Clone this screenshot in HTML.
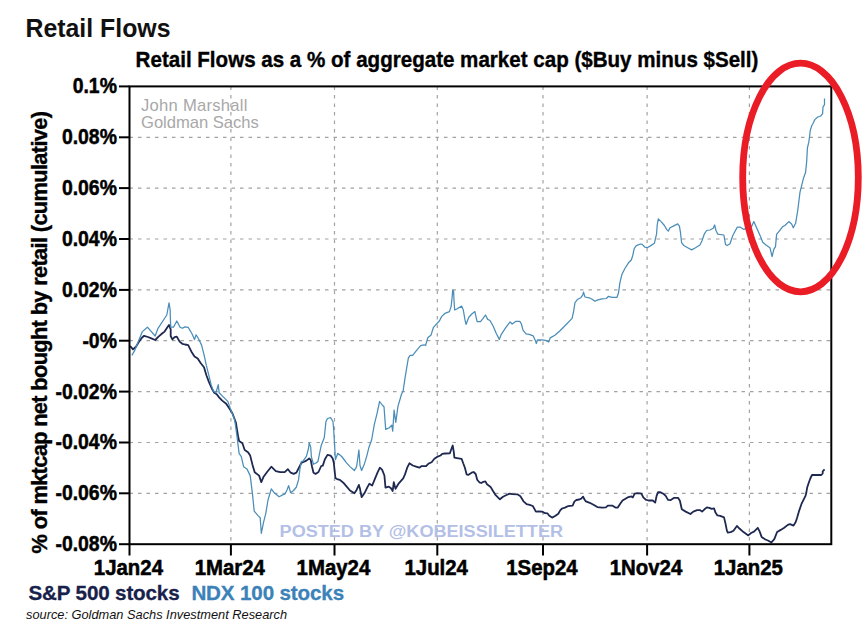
<!DOCTYPE html><html><head><meta charset="utf-8"><style>html,body{margin:0;padding:0;background:#fff;overflow:hidden}svg{display:block}</style></head><body>
<svg width="862" height="631" viewBox="0 0 862 631">
<rect width="862" height="631" fill="#fff"/>
<text x="25.5" y="37" font-family="Liberation Sans" font-weight="bold" font-size="25" fill="#111" textLength="145" lengthAdjust="spacingAndGlyphs">Retail Flows</text>
<text transform="translate(135.6,67.4) scale(1,1.05)" font-family="Liberation Sans" font-weight="bold" font-size="20.5" fill="#000" stroke="#000" stroke-width="0.35" textLength="622.8" lengthAdjust="spacingAndGlyphs">Retail Flows as a % of aggregate market cap ($Buy minus $Sell)</text>
<g stroke="#a2a2a2" stroke-width="1.2" stroke-dasharray="3.5 5"><line x1="129.5" y1="137.3" x2="831.3" y2="137.3"/><line x1="129.5" y1="188.1" x2="831.3" y2="188.1"/><line x1="129.5" y1="239.0" x2="831.3" y2="239.0"/><line x1="129.5" y1="289.9" x2="831.3" y2="289.9"/><line x1="129.5" y1="340.7" x2="831.3" y2="340.7"/><line x1="129.5" y1="391.6" x2="831.3" y2="391.6"/><line x1="129.5" y1="442.5" x2="831.3" y2="442.5"/><line x1="129.5" y1="493.3" x2="831.3" y2="493.3"/><line x1="230.9" y1="86.4" x2="230.9" y2="544.2"/><line x1="334.5" y1="86.4" x2="334.5" y2="544.2"/><line x1="437.3" y1="86.4" x2="437.3" y2="544.2"/><line x1="543.0" y1="86.4" x2="543.0" y2="544.2"/><line x1="647.1" y1="86.4" x2="647.1" y2="544.2"/><line x1="749.4" y1="86.4" x2="749.4" y2="544.2"/></g>
<text x="141" y="110.9" font-family="Liberation Sans" font-size="16.6" fill="#a8a8a8" textLength="106.4" lengthAdjust="spacing">John Marshall</text>
<text x="141" y="128.2" font-family="Liberation Sans" font-size="16.6" fill="#a8a8a8" textLength="117.7" lengthAdjust="spacing">Goldman Sachs</text>
<text x="279.6" y="536.7" font-family="Liberation Sans" font-weight="bold" font-size="17.2" fill="#b3bfe6" textLength="283.4" lengthAdjust="spacingAndGlyphs">POSTED BY @KOBEISSILETTER</text>
<path d="M130.2,346.0 L133.0,349.3 L135.8,347.0 L139.1,341.6 L141.9,337.7 L144.1,335.8 L148.0,337.0 L151.3,338.3 L155.2,340.0 L158.5,336.6 L162.4,333.3 L164.6,331.6 L167.4,327.2 L169.0,325.0 L170.7,329.4 L170.7,336.0 L172.4,339.4 L174.6,337.2 L176.8,336.6 L179.6,341.6 L182.3,343.8 L185.0,344.5 L188.2,345.1 L191.3,351.4 L194.5,356.5 L197.7,358.6 L200.8,363.3 L204.0,367.3 L206.4,375.2 L208.8,381.6 L211.9,388.7 L214.3,392.7 L216.7,394.2 L219.1,397.4 L222.2,400.6 L226.2,403.7 L229.4,408.5 L232.4,413.3 L235.8,422.2 L238.0,435.6 L239.1,441.1 L242.4,443.3 L244.7,450.0 L248.0,452.2 L250.2,455.6 L252.4,464.4 L254.7,472.2 L259.1,475.6 L261.3,482.2 L263.6,476.7 L266.9,472.2 L271.3,466.7 L275.8,471.1 L280.2,472.2 L284.7,472.2 L287.9,469.2 L290.7,472.7 L293.6,473.9 L296.4,472.7 L299.3,467.0 L301.4,462.8 L303.5,462.0 L306.4,460.6 L309.2,458.5 L310.7,459.9 L312.1,467.0 L313.5,472.7 L315.6,473.9 L318.5,472.0 L321.2,466.0 L322.8,465.6 L324.9,459.2 L327.5,454.9 L330.6,455.6 L332.7,458.5 L333.8,462.8 L335.4,478.0 L337.0,479.1 L339.9,479.9 L343.3,482.7 L346.7,486.6 L350.0,490.5 L354.4,493.3 L356.6,489.9 L358.9,484.9 L360.0,488.8 L361.6,497.1 L364.4,493.3 L367.7,486.6 L369.4,483.8 L372.2,485.5 L374.9,478.8 L377.7,472.2 L379.9,467.7 L382.2,469.9 L384.4,475.5 L385.5,487.7 L388.8,486.6 L391.0,488.3 L392.7,491.0 L393.8,482.2 L395.5,488.8 L398.8,483.3 L403.2,478.3 L405.0,474.4 L407.2,467.7 L409.4,463.3 L412.8,465.5 L416.1,466.6 L419.4,467.7 L421.6,466.1 L426.1,466.1 L428.3,463.8 L431.6,462.2 L434.4,458.8 L437.7,456.6 L440.5,455.5 L442.2,453.9 L444.9,453.5 L449.9,453.3 L451.0,450.0 L452.7,445.5 L453.8,452.2 L454.4,457.7 L458.3,458.3 L461.6,458.8 L463.2,463.3 L464.9,467.7 L466.6,474.4 L468.2,474.9 L471.6,472.7 L473.6,472.0 L475.7,474.0 L477.2,479.7 L479.3,482.3 L481.3,483.0 L483.4,481.8 L485.4,481.3 L487.0,484.3 L490.6,486.9 L492.7,490.5 L495.7,495.2 L499.9,499.3 L503.0,496.7 L506.0,495.2 L509.6,493.6 L512.2,494.1 L517.4,494.3 L520.4,496.2 L523.5,501.3 L526.6,504.2 L529.7,504.9 L532.8,506.0 L535.9,511.6 L539.0,511.4 L542.1,511.6 L545.2,513.2 L547.4,513.3 L549.3,515.7 L552.1,517.6 L555.5,515.7 L558.3,513.8 L560.2,510.4 L562.1,508.5 L565.0,507.6 L567.8,506.2 L572.6,505.7 L574.5,501.4 L576.4,500.0 L579.3,499.5 L581.2,498.6 L583.1,496.7 L584.5,499.5 L585.9,501.4 L589.7,502.8 L593.5,504.7 L597.3,507.1 L602.1,507.6 L605.9,507.4 L607.8,505.7 L612.6,505.7 L615.4,507.6 L617.8,507.6 L620.2,503.8 L622.5,500.5 L623.8,499.7 L627.6,497.4 L631.4,496.4 L632.8,497.4 L634.7,493.6 L637.6,493.1 L641.4,493.6 L643.3,497.4 L645.7,499.7 L648.5,500.5 L652.8,500.5 L655.2,502.6 L656.6,495.9 L658.1,492.1 L660.0,492.1 L663.8,494.0 L665.7,495.9 L668.0,499.9 L670.4,500.2 L674.2,497.8 L678.0,497.8 L679.9,500.7 L681.8,509.3 L685.7,511.6 L690.4,514.0 L693.3,511.6 L697.1,510.2 L700.2,510.2 L702.1,511.6 L704.5,509.3 L706.9,507.4 L709.3,507.8 L711.7,508.8 L714.0,508.3 L715.5,512.6 L717.4,515.4 L720.2,515.9 L724.0,517.4 L725.4,523.1 L726.9,530.7 L727.8,532.6 L730.7,532.1 L733.5,530.7 L736.9,525.9 L739.7,528.8 L743.5,532.1 L748.3,535.4 L751.1,533.0 L754.0,531.6 L757.8,527.8 L759.7,531.6 L761.6,536.9 L765.4,539.5 L767.9,540.5 L771.4,542.5 L774.3,539.1 L777.1,532.0 L780.7,529.9 L784.2,527.7 L787.8,524.9 L790.0,524.1 L793.5,525.6 L795.7,522.0 L797.1,517.7 L799.2,510.6 L801.4,504.2 L803.5,499.9 L805.6,495.6 L806.3,492.8 L807.1,487.8 L808.5,483.5 L810.3,478.5 L812.0,475.0 L815.6,475.0 L821.3,475.0 L822.7,473.5 L822.7,471.4 L824.6,469.3" fill="none" stroke="#1e2850" stroke-width="1.8" stroke-linejoin="round"/>
<path d="M131.9,355.4 L134.7,350.4 L139.1,339.4 L142.4,331.6 L147.4,327.2 L155.2,336.0 L158.0,328.3 L166.8,315.0 L169.0,302.8 L170.1,309.4 L170.7,327.2 L173.5,327.2 L176.8,321.0 L180.1,327.2 L182.3,328.3 L185.0,326.9 L188.2,327.4 L192.1,334.0 L194.5,339.6 L196.1,334.8 L198.5,338.8 L201.6,345.1 L204.0,354.6 L206.4,365.7 L208.8,375.2 L211.1,384.7 L213.5,391.1 L215.9,392.7 L218.3,384.7 L219.1,392.7 L223.0,396.6 L227.8,401.4 L231.3,411.1 L234.7,420.0 L236.9,435.6 L239.1,453.3 L241.3,456.7 L243.6,466.7 L246.9,468.9 L250.2,475.6 L252.4,493.3 L254.2,511.1 L258.0,515.6 L260.2,517.8 L261.3,533.3 L263.6,522.2 L265.8,513.3 L268.0,500.0 L271.3,488.9 L274.7,493.3 L279.1,496.7 L283.6,494.4 L285.0,494.1 L287.1,489.8 L288.6,485.6 L290.7,492.7 L293.6,490.5 L296.4,487.0 L298.5,479.9 L300.0,468.5 L301.4,461.3 L302.8,461.3 L306.4,456.3 L308.5,448.5 L309.2,442.8 L310.7,447.1 L311.4,457.0 L313.5,464.2 L316.4,462.8 L318.0,461.2 L321.2,445.4 L324.3,437.5 L325.9,421.7 L327.5,418.5 L330.7,417.7 L333.0,421.7 L333.8,431.2 L334.6,445.4 L335.4,459.7 L337.8,453.3 L341.7,456.5 L344.4,460.0 L346.5,462.8 L350.0,466.6 L354.4,470.5 L356.6,466.6 L358.9,450.0 L360.0,465.5 L361.6,470.5 L364.4,463.9 L366.6,456.6 L368.8,447.8 L371.6,440.0 L374.4,424.2 L377.0,413.7 L379.6,401.5 L382.2,405.0 L384.0,406.7 L385.7,429.4 L389.2,427.7 L391.8,425.1 L392.7,431.2 L394.1,410.2 L395.8,422.4 L397.9,406.7 L401.4,394.5 L403.1,391.0 L404.9,378.8 L406.6,368.4 L408.4,357.9 L410.1,355.3 L412.7,355.3 L416.2,350.9 L420.6,345.7 L424.1,344.8 L425.6,345.5 L427.8,337.7 L431.1,334.9 L433.3,327.7 L436.1,324.4 L439.4,321.0 L441.6,316.6 L445.0,313.3 L449.4,311.6 L451.1,306.6 L452.2,296.6 L452.7,290.0 L453.6,291.1 L454.1,302.2 L454.7,310.0 L457.2,308.8 L461.6,306.1 L463.3,310.0 L465.0,319.9 L466.0,324.4 L468.8,317.2 L472.1,313.8 L474.9,311.6 L477.1,321.6 L480.5,321.6 L482.7,318.8 L485.5,315.0 L487.7,319.4 L490.0,320.5 L493.1,326.0 L496.2,333.2 L499.3,339.4 L501.3,334.3 L505.4,328.1 L510.1,321.9 L512.1,324.0 L515.7,321.4 L519.9,321.4 L521.4,324.0 L523.0,330.2 L526.0,333.8 L529.1,334.3 L533.2,335.8 L535.3,340.4 L536.3,343.5 L537.4,339.9 L541.5,339.9 L545.6,340.4 L548.7,342.0 L550.2,337.9 L554.9,335.3 L560.0,330.7 L565.2,325.5 L572.1,318.4 L573.6,311.3 L575.0,302.7 L577.8,299.2 L580.7,297.8 L582.8,294.9 L583.5,292.1 L585.0,297.0 L589.2,297.8 L592.1,299.2 L595.0,301.3 L597.8,299.9 L602.1,298.8 L606.4,298.5 L608.5,296.3 L612.1,297.3 L617.0,297.3 L618.5,292.8 L619.9,282.8 L622.0,274.2 L624.9,268.5 L628.5,262.8 L631.3,260.0 L632.7,255.7 L634.2,248.6 L636.3,245.7 L640.6,244.0 L642.2,244.4 L645.0,247.2 L647.2,247.7 L650.0,246.1 L654.4,243.3 L655.5,238.3 L656.6,233.8 L657.2,225.0 L658.3,218.9 L661.1,221.6 L664.4,225.5 L666.6,229.4 L668.3,231.1 L670.0,227.7 L673.3,226.1 L677.7,223.9 L679.4,226.1 L680.5,232.7 L681.6,242.7 L683.8,245.5 L687.7,247.7 L691.6,249.9 L695.5,247.7 L699.9,245.0 L702.1,240.5 L704.4,233.8 L706.6,230.5 L709.9,230.0 L713.2,228.3 L714.6,225.0 L716.0,230.5 L717.7,234.1 L719.4,234.4 L723.9,235.0 L725.5,244.4 L727.2,245.5 L730.0,243.8 L732.8,235.5 L737.2,227.2 L740.5,227.2 L743.8,229.4 L748.3,227.7 L751.6,226.6 L753.8,221.6 L756.6,227.7 L760.5,236.6 L762.7,242.2 L766.0,244.9 L769.9,247.7 L772.1,256.6 L773.8,249.4 L775.5,246.6 L776.6,234.4 L778.8,231.6 L782.7,226.6 L784.9,225.5 L788.8,221.6 L791.6,223.9 L793.3,227.8 L795.6,223.3 L797.8,210.0 L800.0,192.2 L802.2,183.3 L803.3,178.9 L805.6,172.2 L806.7,161.1 L807.4,148.0 L808.8,142.2 L809.7,135.5 L810.2,130.8 L811.6,126.0 L813.1,123.2 L815.0,119.4 L817.8,117.0 L820.7,116.0 L822.6,113.7 L823.0,107.0 L824.5,104.6 L824.5,98.5" fill="none" stroke="#4a8db8" stroke-width="1.25" stroke-linejoin="round"/>
<rect x="129.5" y="86.4" width="701.8" height="457.8" fill="none" stroke="#000" stroke-width="2"/>
<g stroke="#000" stroke-width="2"><line x1="119" y1="86.4" x2="129.5" y2="86.4"/><line x1="119" y1="137.3" x2="129.5" y2="137.3"/><line x1="119" y1="188.1" x2="129.5" y2="188.1"/><line x1="119" y1="239.0" x2="129.5" y2="239.0"/><line x1="119" y1="289.9" x2="129.5" y2="289.9"/><line x1="119" y1="340.7" x2="129.5" y2="340.7"/><line x1="119" y1="391.6" x2="129.5" y2="391.6"/><line x1="119" y1="442.5" x2="129.5" y2="442.5"/><line x1="119" y1="493.3" x2="129.5" y2="493.3"/><line x1="119" y1="544.2" x2="129.5" y2="544.2"/><line x1="129.5" y1="544.2" x2="129.5" y2="555.5"/><line x1="230.9" y1="544.2" x2="230.9" y2="555.5"/><line x1="334.5" y1="544.2" x2="334.5" y2="555.5"/><line x1="437.3" y1="544.2" x2="437.3" y2="555.5"/><line x1="543.0" y1="544.2" x2="543.0" y2="555.5"/><line x1="647.1" y1="544.2" x2="647.1" y2="555.5"/><line x1="749.4" y1="544.2" x2="749.4" y2="555.5"/></g>
<text transform="translate(116.9,93.3) scale(0.97,1.1)" font-family="Liberation Sans" font-weight="bold" font-size="20" text-anchor="end" fill="#000" stroke="#000" stroke-width="0.45">0.1%</text>
<text transform="translate(116.9,144.2) scale(0.97,1.1)" font-family="Liberation Sans" font-weight="bold" font-size="20" text-anchor="end" fill="#000" stroke="#000" stroke-width="0.45">0.08%</text>
<text transform="translate(116.9,195.0) scale(0.97,1.1)" font-family="Liberation Sans" font-weight="bold" font-size="20" text-anchor="end" fill="#000" stroke="#000" stroke-width="0.45">0.06%</text>
<text transform="translate(116.9,245.9) scale(0.97,1.1)" font-family="Liberation Sans" font-weight="bold" font-size="20" text-anchor="end" fill="#000" stroke="#000" stroke-width="0.45">0.04%</text>
<text transform="translate(116.9,296.8) scale(0.97,1.1)" font-family="Liberation Sans" font-weight="bold" font-size="20" text-anchor="end" fill="#000" stroke="#000" stroke-width="0.45">0.02%</text>
<text transform="translate(116.9,347.6) scale(0.97,1.1)" font-family="Liberation Sans" font-weight="bold" font-size="20" text-anchor="end" fill="#000" stroke="#000" stroke-width="0.45">-0%</text>
<text transform="translate(116.9,398.5) scale(0.97,1.1)" font-family="Liberation Sans" font-weight="bold" font-size="20" text-anchor="end" fill="#000" stroke="#000" stroke-width="0.45">-0.02%</text>
<text transform="translate(116.9,449.4) scale(0.97,1.1)" font-family="Liberation Sans" font-weight="bold" font-size="20" text-anchor="end" fill="#000" stroke="#000" stroke-width="0.45">-0.04%</text>
<text transform="translate(116.9,500.2) scale(0.97,1.1)" font-family="Liberation Sans" font-weight="bold" font-size="20" text-anchor="end" fill="#000" stroke="#000" stroke-width="0.45">-0.06%</text>
<text transform="translate(116.9,551.1) scale(0.97,1.1)" font-family="Liberation Sans" font-weight="bold" font-size="20" text-anchor="end" fill="#000" stroke="#000" stroke-width="0.45">-0.08%</text>
<text transform="translate(128.4,574.6) scale(1.02,1.08)" font-family="Liberation Sans" font-weight="bold" font-size="20" text-anchor="middle" fill="#000" stroke="#000" stroke-width="0.5">1Jan24</text>
<text transform="translate(229.8,574.6) scale(1.02,1.08)" font-family="Liberation Sans" font-weight="bold" font-size="20" text-anchor="middle" fill="#000" stroke="#000" stroke-width="0.5">1Mar24</text>
<text transform="translate(333.4,574.6) scale(1.02,1.08)" font-family="Liberation Sans" font-weight="bold" font-size="20" text-anchor="middle" fill="#000" stroke="#000" stroke-width="0.5">1May24</text>
<text transform="translate(436.2,574.6) scale(1.02,1.08)" font-family="Liberation Sans" font-weight="bold" font-size="20" text-anchor="middle" fill="#000" stroke="#000" stroke-width="0.5">1Jul24</text>
<text transform="translate(541.9,574.6) scale(1.02,1.08)" font-family="Liberation Sans" font-weight="bold" font-size="20" text-anchor="middle" fill="#000" stroke="#000" stroke-width="0.5">1Sep24</text>
<text transform="translate(646.0,574.6) scale(1.02,1.08)" font-family="Liberation Sans" font-weight="bold" font-size="20" text-anchor="middle" fill="#000" stroke="#000" stroke-width="0.5">1Nov24</text>
<text transform="translate(748.3,574.6) scale(1.02,1.08)" font-family="Liberation Sans" font-weight="bold" font-size="20" text-anchor="middle" fill="#000" stroke="#000" stroke-width="0.5">1Jan25</text>
<text transform="translate(46.9,553.4) rotate(-90)" x="0" y="0" font-family="Liberation Sans" font-weight="bold" font-size="21.8" fill="#000" stroke="#000" stroke-width="0.35" textLength="442.4" lengthAdjust="spacing">% of mktcap net bought by retail (cumulative)</text>
<text x="28.5" y="599.5" font-family="Liberation Sans" font-weight="bold" font-size="20.6" fill="#17214a" stroke="#17214a" stroke-width="0.3" textLength="151.1" lengthAdjust="spacing">S&amp;P 500 stocks</text>
<text x="191.4" y="599.5" font-family="Liberation Sans" font-weight="bold" font-size="20.6" fill="#3b82b8" stroke="#3b82b8" stroke-width="0.3" textLength="152.7" lengthAdjust="spacing">NDX 100 stocks</text>
<text x="26" y="619" font-family="Liberation Sans" font-style="italic" font-size="12.8" fill="#111">source: Goldman Sachs Investment Research</text>
<ellipse cx="800.5" cy="177.5" rx="57.8" ry="114.3" fill="none" stroke="#ea1d26" stroke-width="6.8"/>
</svg></body></html>
